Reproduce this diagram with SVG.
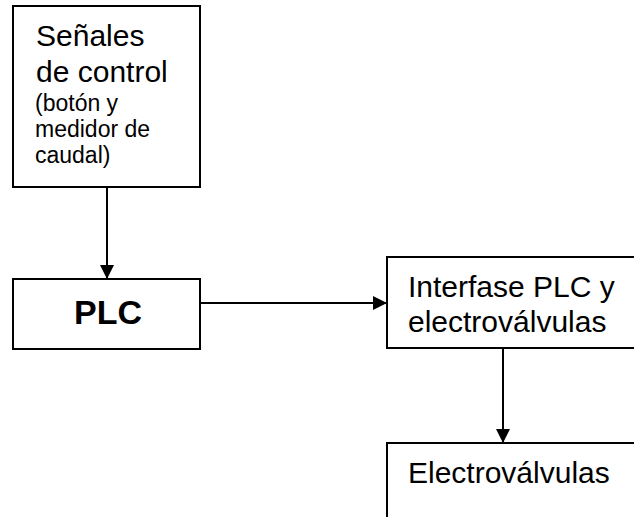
<svg xmlns="http://www.w3.org/2000/svg" width="634" height="517" viewBox="0 0 634 517">
<style>
.box{fill:#fff;stroke:#000;stroke-width:2}
.t{font-family:"Liberation Sans",Arial,sans-serif;fill:#000}
.big{font-size:30px}
.small{font-size:23px}
.bold{font-size:34px;font-weight:bold}
.conn{stroke:#000;stroke-width:2;fill:none}
</style>
<defs>
<marker id="ah" markerWidth="14" markerHeight="14" refX="14" refY="7" orient="auto" markerUnits="userSpaceOnUse">
<path d="M0,0 L14,7 L0,14 Z" fill="#000"/>
</marker>
</defs>
<rect width="634" height="517" fill="#fff"/>
<g id="connectors">
<line class="conn" x1="107" y1="187" x2="107" y2="279" marker-end="url(#ah)"/>
<line class="conn" x1="200" y1="303" x2="387" y2="303" marker-end="url(#ah)"/>
<line class="conn" x1="503" y1="348" x2="503" y2="443" marker-end="url(#ah)"/>
</g>
<g id="senales">
<rect class="box" x="13" y="6" width="187" height="181"/>
<text class="t big" x="36" y="46">Señales</text>
<text class="t big" x="36" y="82">de control</text>
<text class="t small" x="35" y="111">(botón y</text>
<text class="t small" x="35" y="137">medidor de</text>
<text class="t small" x="35" y="163">caudal)</text>
</g>
<g id="plc">
<rect class="box" x="13" y="279" width="187" height="70"/>
<text class="t bold" x="108" y="324" text-anchor="middle">PLC</text>
</g>
<g id="interfase">
<rect class="box" x="387" y="257" width="260" height="91"/>
<text class="t big" x="408" y="297">Interfase PLC y</text>
<text class="t big" x="408" y="332">electroválvulas</text>
</g>
<g id="electrovalvulas">
<rect class="box" x="387" y="443" width="260" height="90"/>
<text class="t big" x="408" y="483">Electroválvulas</text>
</g>
</svg>
